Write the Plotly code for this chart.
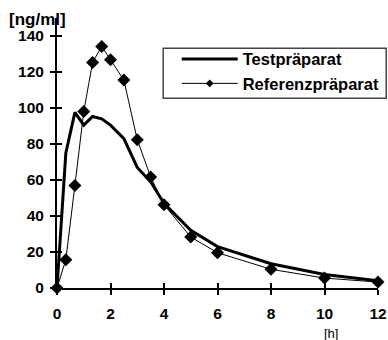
import plotly.graph_objects as go

# data
time_h = [0, 0.33, 0.67, 1.0, 1.33, 1.67, 2.0, 2.5, 3.0, 3.5, 4.0, 5.0, 6.0, 8.0, 10.0, 12.0]
test_ng = [0, 75, 97.6, 90.5, 95.3, 94, 90.5, 83, 67, 59, 47, 32, 23, 13.5, 7.5, 4]
ref_ng = [0, 15.7, 57, 98.1, 125.3, 134.2, 126.8, 115.5, 82.4, 61.7, 46.3, 28.3, 19.6, 10.4, 5.5, 3.3]
x_ticks = [0, 2, 4, 6, 8, 10, 12]
y_ticks = [0, 20, 40, 60, 80, 100, 120, 140]
series_names = ["Testpräparat", "Referenzpräparat"]

FONT = "Liberation Sans, Arial, sans-serif"
W, H = 388, 340
L, R, T, B = 57.3, 9.7, 18.3, 51.7
PW, PH = W - L - R, H - T - B


def px_x(p):
    return (p - L) / PW


def px_y(p):
    return (H - B - p) / PH


fig = go.Figure()
fig.add_trace(go.Scatter(x=time_h, y=test_ng, name=series_names[0], mode="lines",
                         line=dict(color="black", width=3), cliponaxis=False))
fig.add_trace(go.Scatter(x=time_h, y=ref_ng, name=series_names[1], mode="lines+markers",
                         line=dict(color="black", width=1),
                         marker=dict(symbol="diamond", size=10, color="black"),
                         cliponaxis=False, showlegend=False))
# legend entry for the reference series (smaller marker, as in the original legend)
fig.add_trace(go.Scatter(x=[None], y=[None], name=series_names[1], mode="lines+markers",
                         line=dict(color="black", width=1),
                         marker=dict(symbol="diamond", size=6, color="black"),
                         hoverinfo="skip"))
# invisible trace for overlay axes (crossing ticks)
fig.add_trace(go.Scatter(x=[], y=[], xaxis="x2", yaxis="y2", showlegend=False, hoverinfo="skip"))

fig.update_layout(
    width=W, height=H,
    margin=dict(l=L, r=R, t=T, b=B, pad=0, autoexpand=False),
    paper_bgcolor="white", plot_bgcolor="white",
    font=dict(family=FONT, color="black", size=15),
    showlegend=True,
    legend=dict(
        x=px_x(177), y=px_y(42),
        xanchor="left", yanchor="top",
        bgcolor="rgba(0,0,0,0)", borderwidth=0,
        font=dict(family=FONT, size=16.5, color="black", weight="bold"),
        itemwidth=56, tracegroupgap=0,
    ),
    xaxis=dict(range=[0, 12], tickvals=x_ticks, ticktext=[str(v) for v in x_ticks],
               showgrid=False, zeroline=False, showline=True, linecolor="black", linewidth=2,
               ticks="outside", ticklen=5, tickwidth=2, tickcolor="black",
               tickfont=dict(family=FONT, size=15.5, weight="bold"), ticklabelstandoff=5),
    yaxis=dict(range=[0, 150], tickvals=y_ticks, ticktext=[str(v) for v in y_ticks],
               showgrid=False, zeroline=False, showline=True, linecolor="black", linewidth=2,
               ticks="outside", ticklen=5, tickwidth=2, tickcolor="black",
               tickfont=dict(family=FONT, size=15.5, weight="bold"), ticklabelstandoff=3),
    xaxis2=dict(range=[0, 12], tickvals=x_ticks, overlaying="x", anchor="y2", side="bottom",
                showgrid=False, zeroline=False, showline=False, showticklabels=False,
                ticks="inside", ticklen=5, tickwidth=2, tickcolor="black"),
    yaxis2=dict(range=[0, 150], tickvals=y_ticks, overlaying="y", anchor="x2", side="left",
                showgrid=False, zeroline=False, showline=False, showticklabels=False,
                ticks="inside", ticklen=5, tickwidth=2, tickcolor="black"),
)
# legend frame
fig.add_shape(type="rect", xref="paper", yref="paper",
              x0=px_x(163.5), x1=px_x(386.5), y0=px_y(98.5), y1=px_y(48.5),
              line=dict(color="#444", width=1.5), fillcolor="white", layer="below")
fig.add_annotation(text="<b>[ng/ml]</b>", xref="paper", yref="paper",
                   x=px_x(7), y=px_y(20), xanchor="left", yanchor="middle", showarrow=False,
                   font=dict(family=FONT, size=17, color="black"))
fig.add_annotation(text="[h]", xref="paper", yref="paper", x=px_x(331), y=px_y(334),
                   xanchor="center", yanchor="middle", showarrow=False,
                   font=dict(family=FONT, size=13, color="black"))
fig.write_html("out.html", config={"displayModeBar": False},
               post_script="document.body.style.margin='0';")
